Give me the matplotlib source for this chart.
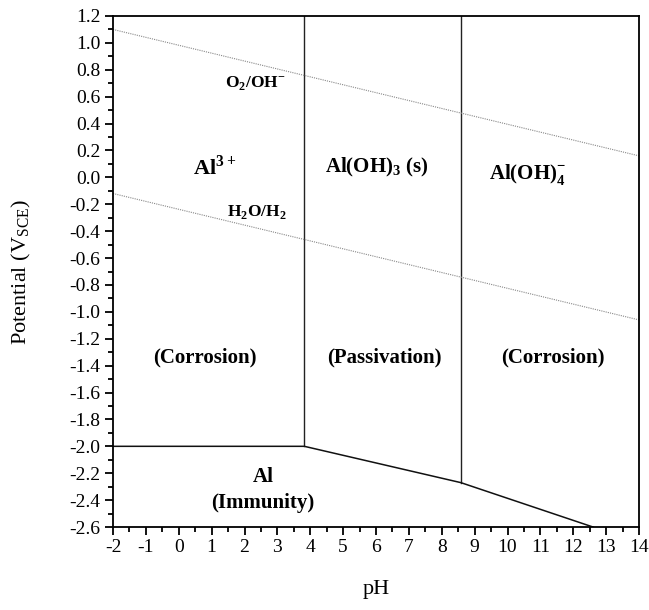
import numpy as np
import matplotlib
matplotlib.use('Agg')
import matplotlib.pyplot as plt
from matplotlib.ticker import MultipleLocator

plt.rcParams['font.family'] = ['Liberation Serif', 'DejaVu Serif']
plt.rcParams['mathtext.fontset'] = 'custom'
plt.rcParams['mathtext.rm'] = 'Liberation Serif'
plt.rcParams['mathtext.bf'] = 'Liberation Serif:bold'
plt.rcParams['axes.unicode_minus'] = False

# Boundaries (pH, potential)
al3_boundary_ph = [3.82, 3.82]
al3_boundary_e = [1.2, -2.0]
aloh4_boundary_ph = [8.58, 8.58]
aloh4_boundary_e = [1.2, -2.27]
immunity_ph = [-2.0, 3.82, 8.58, 12.6]
immunity_e = [-2.0, -2.0, -2.27, -2.6]

# Water stability lines
water_ph = [-2.0, 14.0]
o2_e = [1.10, 0.16]
h2_e = [-0.12, -1.06]

fig, ax = plt.subplots(figsize=(6.49, 6.10), dpi=100)
fig.subplots_adjust(left=113/649, right=639/649, top=1-16/610, bottom=1-527/610)

ax.plot(al3_boundary_ph, al3_boundary_e, color='#222222', lw=1.0)
ax.plot(aloh4_boundary_ph, aloh4_boundary_e, color='#222222', lw=1.0)
ax.plot(immunity_ph, immunity_e, color='#111111', lw=1.1)
ax.plot(water_ph, o2_e, color='#888888', lw=0.8, ls=(0, (1, 1)))
ax.plot(water_ph, h2_e, color='#888888', lw=0.8, ls=(0, (1, 1)))

ax.set_xlim(-2, 14)
ax.set_ylim(-2.6, 1.2)
ax.xaxis.set_major_locator(MultipleLocator(1))
ax.xaxis.set_minor_locator(MultipleLocator(0.5))
ax.yaxis.set_major_locator(MultipleLocator(0.2))
ax.yaxis.set_minor_locator(MultipleLocator(0.1))
ax.set_yticklabels([f'{v:.1f}' for v in ax.get_yticks()])
ax.tick_params(which='major', direction='out', length=6, width=1.3, labelsize=14, pad=3)
ax.tick_params(which='minor', direction='out', length=3.5, width=1.3)
for s in ax.spines.values():
    s.set_linewidth(1.3)

ax.set_xlabel('pH', fontsize=16, labelpad=17)
ax.set_ylabel(r'Potential (V$_{\rm SCE}$)', fontsize=16, labelpad=26)

bold = dict(fontweight='bold', ha='center', va='center')
ax.text(2.32, 0.70, r'O$_{\mathbf{2}}$/OH$^{\mathbf{-}}$', fontsize=12.5, **bold)
ax.text(1.1, 0.07, r'Al$^{\mathbf{3+}}$', fontsize=16, **bold)
ax.text(2.38, -0.26, r'H$_{\mathbf{2}}$O/H$_{\mathbf{2}}$', fontsize=12.5, **bold)
ax.text(6.02, 0.07, r'Al(OH)$_{\mathbf{3}}$ (s)', fontsize=15, **bold)
ax.text(10.6, 0.02, r'Al(OH)$_{\mathbf{4}}^{\mathbf{-}}$', fontsize=15, **bold)
ax.text(0.8, -1.34, '(Corrosion)', fontsize=15, **bold)
ax.text(6.24, -1.34, '(Passivation)', fontsize=15, **bold)
ax.text(11.37, -1.34, '(Corrosion)', fontsize=15, **bold)
ax.text(2.56, -2.23, 'Al', fontsize=15, **bold)
ax.text(2.56, -2.42, '(Immunity)', fontsize=15, **bold)

fig.savefig('out.png', dpi=100)
